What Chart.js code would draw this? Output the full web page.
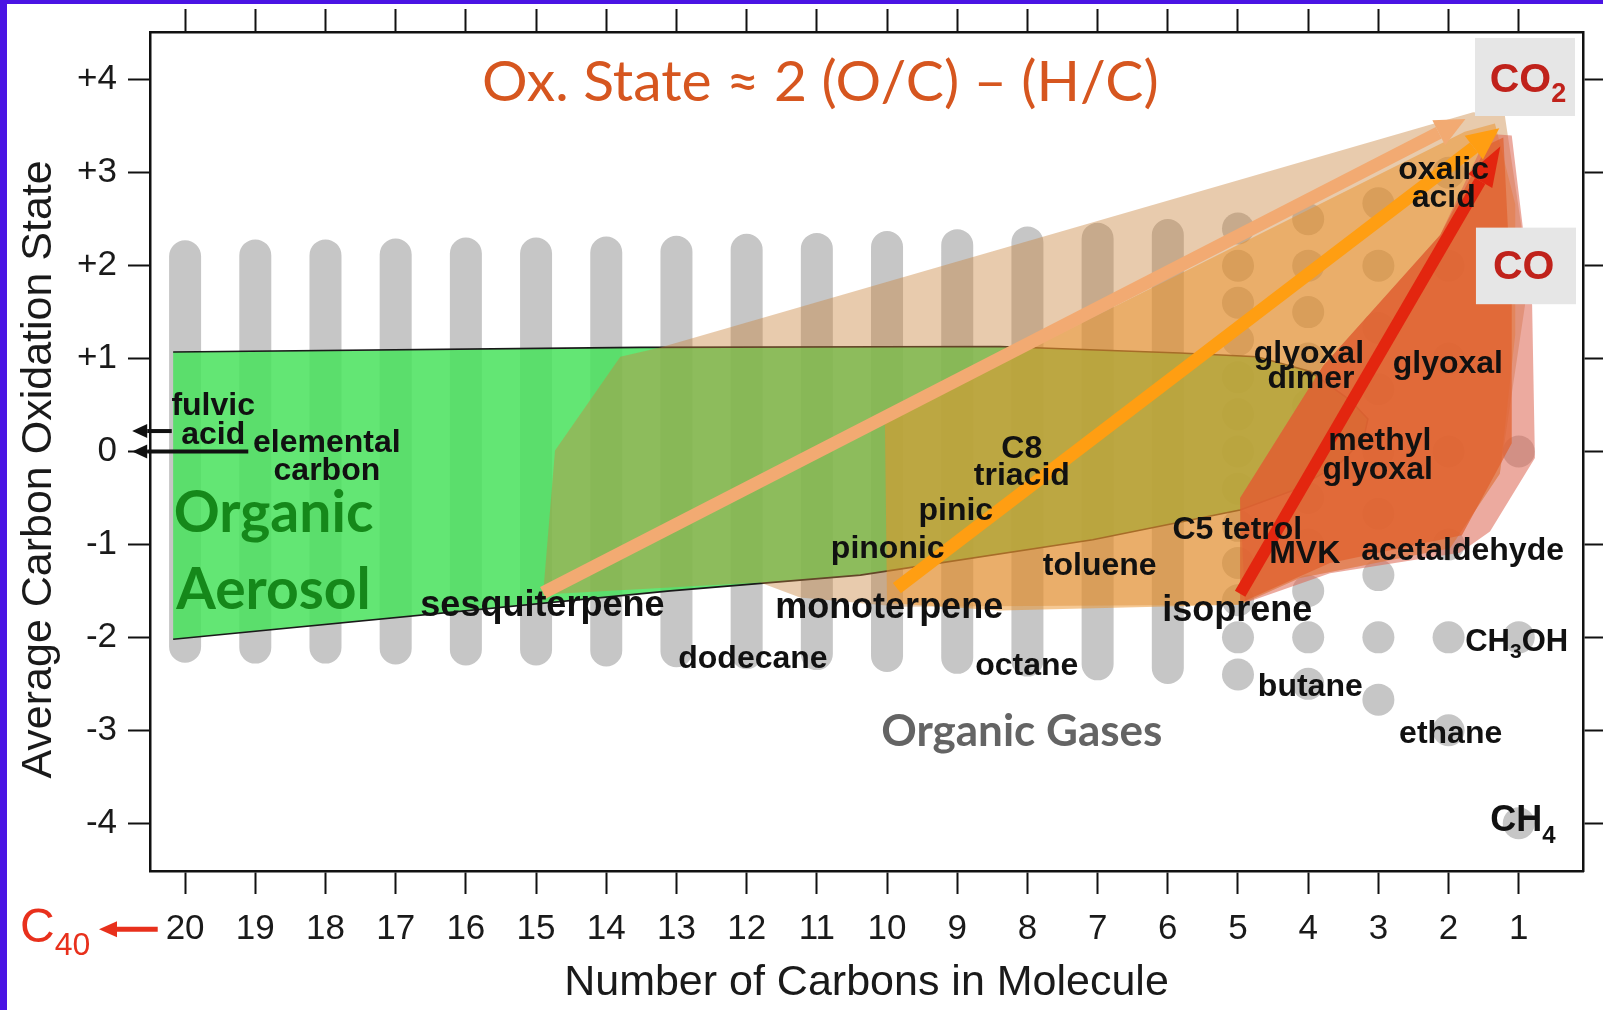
<!DOCTYPE html>
<html lang="en">
<head>
<meta charset="utf-8">
<title>Average carbon oxidation state</title>
<script src="https://cdn.jsdelivr.net/npm/chart.js@4.4.1/dist/chart.umd.min.js"></script>
<style>
  html, body { margin: 0; padding: 0; background: #ffffff; }
  canvas { display: block; }
</style>
</head>
<body>
<canvas id="grafico" width="1603" height="1010"></canvas>
<script>
// ==========================================
// Average carbon oxidation state vs. number of carbons
// ==========================================

// --- ticks ---
const carbonTicks = [20, 19, 18, 17, 16, 15, 14, 13, 12, 11, 10, 9, 8, 7, 6, 5, 4, 3, 2, 1];
const stateTicks = [-4, -3, -2, -1, 0, 1, 2, 3, 4];
const stateTickLabels = ['-4', '-3', '-2', '-1', '0', '+1', '+2', '+3', '+4'];

// --- gray columns (dots merge into bars for the bigger molecules) ---
const columnCarbons = [20, 19, 18, 17, 16, 15, 14, 13, 12, 11, 10, 9, 8, 7, 6];
const columnLow  = [-2.1, -2.11, -2.11, -2.12, -2.13, -2.13, -2.14, -2.15, -2.17, -2.18, -2.2, -2.22, -2.25, -2.29, -2.33];
const columnHigh = [2.1, 2.11, 2.11, 2.12, 2.13, 2.13, 2.14, 2.15, 2.17, 2.18, 2.2, 2.22, 2.25, 2.29, 2.33];

// --- separate dots for the small molecules ---
const dotsC5 = [-2.4, -2, -1.6, -1.2, -0.8, -0.4, 0, 0.4, 0.8, 1.2, 1.6, 2, 2.4];
const dotsC4 = [-2.5, -2, -1.5, -1, -0.5, 0, 0.5, 1, 1.5, 2, 2.5];
const dotsC3 = [-2.67, -2, -1.33, -0.67, 0, 0.67, 1.33, 2, 2.67];
const dotsC2 = [-3, -2, -1, 0, 1, 2, 3];
const dotsC1 = [-4, -2, 0, 2, 4];

// --- regions (outline points: carbons, oxidation state) ---
const aerosolN  = [20.17, 13.52, 8.39, 5.83, 4.73, 3.97, 3.40, 3.15, 3.21, 3.55, 4.22, 4.97, 7.07, 10.38, 13.09, 20.17, 20.17];
const aerosolOS = [1.07, 1.12, 1.13, 1.06, 1.02, 0.86, 0.55, 0.35, 0.14, -0.13, -0.42, -0.63, -0.95, -1.33, -1.50, -2.02, 1.07];

const sesquiN  = [14.90, 14.73, 13.80, 13.23, 1.65, 1.20, 0.95, 0.91, 1.27, 1.98, 4.12, 4.97, 9.81, 11.24, 11.81, 14.90];
const sesquiOS = [-1.54, 0.01, 1.02, 1.12, 3.65, 3.62, 2.36, 1.58, -0.24, -1.04, -1.36, -1.65, -1.67, -1.57, -1.41, -1.54];

const monoN  = [10.0, 10.03, 9.81, 1.77, 1.34, 1.05, 1.05, 1.27, 1.98, 4.12, 4.97, 8.39, 10.0];
const monoOS = [-1.63, 0.30, 0.41, 3.44, 3.53, 2.66, 1.26, -0.24, -1.04, -1.36, -1.65, -1.71, -1.63];

const isoGlowN  = [1.44, 1.10, 0.81, 0.77, 1.41, 1.84, 3.69, 4.90, 4.97, 3.79, 2.12, 1.44];
const isoGlowOS = [3.42, 3.40, 1.58, -0.07, -0.86, -1.09, -1.31, -1.63, -0.50, 0.92, 2.33, 3.42];

const isoN  = [4.97, 4.97, 3.79, 2.12, 1.44, 1.22, 1.10, 1.10, 1.81, 3.69, 4.97];
const isoOS = [-1.63, -0.50, 0.92, 2.33, 3.30, 3.38, 1.58, 0.09, -0.90, -1.20, -1.63];

// --- oxidation arrows (start -> base of the head) ---
const sesquiArrowN  = [14.90, 2.14];
const sesquiArrowOS = [-1.52, 3.43];
const monoArrowN  = [9.86, 1.64];
const monoArrowOS = [-1.47, 3.27];
const isoArrowN  = [4.97, 1.55];
const isoArrowOS = [-1.53, 2.91];

// --- little black arrows (fulvic acid, elemental carbon) and C40 arrow ---
const fulvicArrowN  = [20.19, 20.54];
const fulvicArrowOS = [0.22, 0.22];
const carbonArrowN  = [19.10, 20.54];
const carbonArrowOS = [0, 0];
const c40ArrowN  = [20.39, 20.97];
const c40ArrowOS = [-5.14, -5.14];

const FUENTE = '"Liberation Sans", Arial, Helvetica, sans-serif';

function puntos(ns, vs) {
    return ns.map((n, i) => ({ x: n, y: vs[i] }));
}

// columnas grises: un tramo por columna, separado con un hueco (null)
let columnas = [];
columnCarbons.forEach((n, i) => {
    columnas.push({ x: n, y: columnLow[i] }, { x: n, y: columnHigh[i] }, { x: n, y: null });
});

let puntitos = [];
[[5, dotsC5], [4, dotsC4], [3, dotsC3], [2, dotsC2], [1, dotsC1]].forEach(([n, lista]) => {
    lista.forEach(v => puntitos.push({ x: n, y: v }));
});

function region(ns, vs, color, orden) {
    return {
        data: puntos(ns, vs), fill: 'shape', backgroundColor: color,
        borderWidth: 0, pointRadius: 0, order: orden
    };
}

function flecha(ns, vs, color, ancho, punta, orden, sinClip) {
    let ds = {
        data: puntos(ns, vs), borderColor: color, borderWidth: ancho,
        pointRadius: 0, fill: false, order: orden, punta: punta
    };
    if (sinClip) ds.clip = false;
    return ds;
}

// textos sobre el gráfico (posiciones en unidades de los ejes)
const estilos = {
    std:   { size: 32, weight: 'bold', family: FUENTE, color: '#111111' },
    big:   { size: 36, weight: 'bold', family: FUENTE, color: '#111111', sub: 24, dy: 15 },
    ch3oh: { size: 31, weight: 'bold', family: FUENTE, color: '#111111', sub: 21, dy: 9 },
    oa:    { size: 57, weight: 'bold', family: 'Lato, "Open Sans", sans-serif', color: '#15881a' },
    gas:   { size: 44, weight: 'bold', family: 'Lato, "Open Sans", sans-serif', color: '#646464' },
    title: { size: 57, weight: 'normal', family: 'Lato, "Open Sans", sans-serif', color: '#d6561f' },
    co:    { size: 41, weight: 'bold', family: FUENTE, color: '#c0221b', sub: 27, dy: 14 },
    c40:   { size: 48, weight: 'normal', family: FUENTE, color: '#e8301c', sub: 32, dy: 17 }
};

const notas = [
    { t: 'fulvic', n: 19.60, v: 0.49 },
    { t: 'acid', n: 19.60, v: 0.18 },
    { t: 'elemental', n: 17.98, v: 0.09 },
    { t: 'carbon', n: 17.98, v: -0.21 },
    { t: 'Organic', n: 18.74, v: -0.67, f: 'oa' },
    { t: 'Aerosol', n: 18.74, v: -1.50, f: 'oa' },
    { t: 'sesquiterpene', n: 14.91, v: -1.66, f: 'big' },
    { t: 'monoterpene', n: 9.97, v: -1.68, f: 'big' },
    { t: 'isoprene', n: 5.01, v: -1.72, f: 'big' },
    { t: 'dodecane', n: 11.91, v: -2.24 },
    { t: 'octane', n: 8.01, v: -2.31 },
    { t: 'toluene', n: 6.97, v: -1.23 },
    { t: 'pinonic', n: 9.99, v: -1.05 },
    { t: 'pinic', n: 9.02, v: -0.64 },
    { t: 'C8', n: 8.08, v: 0.03 },
    { t: 'triacid', n: 8.08, v: -0.27 },
    { t: 'C5 tetrol', n: 5.01, v: -0.85 },
    { t: 'MVK', n: 4.05, v: -1.11 },
    { t: 'acetaldehyde', n: 1.80, v: -1.07 },
    { t: 'glyoxal', n: 3.99, v: 1.05 },
    { t: 'dimer', n: 3.96, v: 0.78 },
    { t: 'glyoxal', n: 2.01, v: 0.94 },
    { t: 'methyl', n: 2.98, v: 0.11 },
    { t: 'glyoxal', n: 3.01, v: -0.20 },
    { t: 'oxalic', n: 2.07, v: 3.03 },
    { t: 'acid', n: 2.07, v: 2.73 },
    { t: 'butane', n: 3.97, v: -2.54 },
    { t: 'ethane', n: 1.97, v: -3.04 },
    { partes: [['CH'], ['3', 1], ['OH']], n: 1.03, v: -2.06, f: 'ch3oh' },
    { partes: [['CH'], ['4', 1]], n: 0.94, v: -3.98, f: 'big' },
    { t: 'Organic Gases', n: 8.08, v: -3.02, f: 'gas' },
    { t: 'Ox. State \u2248 2 (O/C) \u2013 (H/C)', n: 10.95, v: 3.97, f: 'title' },
    { partes: [['CO'], ['2', 1]], n: 0.87, v: 3.99, f: 'co' },
    { t: 'CO', n: 0.93, v: 1.98, f: 'co' },
    { partes: [['C'], ['40', 1]], n: 21.85, v: -5.14, f: 'c40' }
];

// cajas grises detrás de CO2 y CO
const cajas = [
    { n1: 1.624, n2: 0.199, v1: 4.45, v2: 3.61 },
    { n1: 1.61, n2: 0.185, v1: 2.409, v2: 1.585 }
];

const fondo = {
    id: 'fondo',
    beforeDraw(chart) {
        let ctx = chart.ctx;
        ctx.save();
        ctx.fillStyle = '#ffffff';
        ctx.fillRect(0, 0, chart.width, chart.height);
        ctx.fillStyle = '#4a14e4';
        ctx.fillRect(0, 0, 7, chart.height);
        ctx.fillRect(0, 0, chart.width, 4);
        ctx.restore();
    }
};

function fuente(e, size) {
    return e.weight + ' ' + size + 'px ' + e.family;
}

const anotaciones = {
    id: 'anotaciones',
    afterDatasetsDraw(chart) {
        let ctx = chart.ctx;
        let xs = chart.scales.x, ys = chart.scales.y;
        ctx.save();

        // puntas de flecha
        chart.data.datasets.forEach((ds, i) => {
            if (!ds.punta) return;
            let pts = chart.getDatasetMeta(i).data;
            let a = pts[pts.length - 2], b = pts[pts.length - 1];
            let ang = Math.atan2(b.y - a.y, b.x - a.x);
            let [largo, medio] = ds.punta;
            let px = Math.cos(ang + Math.PI / 2), py = Math.sin(ang + Math.PI / 2);
            ctx.fillStyle = ds.borderColor;
            ctx.beginPath();
            ctx.moveTo(b.x + Math.cos(ang) * largo, b.y + Math.sin(ang) * largo);
            ctx.lineTo(b.x + px * medio, b.y + py * medio);
            ctx.lineTo(b.x - px * medio, b.y - py * medio);
            ctx.closePath();
            ctx.fill();
        });

        // cajas
        ctx.fillStyle = '#e6e6e6';
        cajas.forEach(c => {
            let x1 = xs.getPixelForValue(c.n1), x2 = xs.getPixelForValue(c.n2);
            let y1 = ys.getPixelForValue(c.v1), y2 = ys.getPixelForValue(c.v2);
            ctx.fillRect(Math.min(x1, x2), Math.min(y1, y2), Math.abs(x2 - x1), Math.abs(y2 - y1));
        });

        // textos
        ctx.textBaseline = 'middle';
        ctx.textAlign = 'left';
        notas.forEach(nota => {
            let e = estilos[nota.f || 'std'];
            let cx = xs.getPixelForValue(nota.n), cy = ys.getPixelForValue(nota.v);
            let partes = nota.partes || [[nota.t]];
            let total = 0;
            partes.forEach(p => {
                ctx.font = fuente(e, p[1] ? e.sub : e.size);
                total += ctx.measureText(p[0]).width;
            });
            let x0 = cx - total / 2;
            ctx.fillStyle = e.color;
            partes.forEach(p => {
                ctx.font = fuente(e, p[1] ? e.sub : e.size);
                ctx.fillText(p[0], x0, p[1] ? cy + e.dy : cy);
                x0 += ctx.measureText(p[0]).width;
            });
        });
        ctx.restore();
    }
};

const ejeGrid = { drawOnChartArea: false, drawTicks: true, tickLength: 23, tickColor: '#111111', tickWidth: 2 };
const ejeBorde = { display: true, color: '#111111', width: 2.5, z: 1 };

let ctx = document.getElementById('grafico').getContext('2d');
new Chart(ctx, {
    type: 'line',
    data: {
        datasets: [
            {
                data: columnas, borderColor: '#c6c6c6', borderWidth: 32, borderCapStyle: 'round',
                pointRadius: 0, fill: false, spanGaps: false, order: 100
            },
            {
                data: puntitos, showLine: false, pointRadius: 16, pointBackgroundColor: '#c6c6c6',
                pointBorderWidth: 0, order: 99
            },
            {
                data: puntos(aerosolN, aerosolOS), fill: 'shape', backgroundColor: 'rgba(72, 226, 92, 0.85)',
                borderColor: '#1a1a1a', borderWidth: 1.6, pointRadius: 0, order: 90,
                segment: {
                    borderColor: c => c.p0DataIndex === aerosolN.length - 2 ? 'rgba(0,0,0,0)' : undefined
                }
            },
            region(sesquiN, sesquiOS, 'rgba(200, 130, 60, 0.42)', 80),
            region(monoN, monoOS, 'rgba(235, 145, 40, 0.5)', 70),
            region(isoGlowN, isoGlowOS, 'rgba(220, 100, 80, 0.55)', 65),
            region(isoN, isoOS, 'rgba(225, 95, 45, 0.72)', 60),
            flecha(sesquiArrowN, sesquiArrowOS, '#f2aa72', 13, [30, 14], 50),
            flecha(monoArrowN, monoArrowOS, '#ff9e12', 13, [32, 15], 45),
            flecha(isoArrowN, isoArrowOS, '#e3260f', 12, [40, 14], 40),
            flecha(fulvicArrowN, fulvicArrowOS, '#111111', 4, [15, 7], 30, true),
            flecha(carbonArrowN, carbonArrowOS, '#111111', 4, [15, 7], 30, true),
            flecha(c40ArrowN, c40ArrowOS, '#e8301c', 5, [18, 8], 30, true)
        ]
    },
    options: {
        responsive: false,
        animation: false,
        events: [],
        layout: { padding: 0 },
        elements: { line: { tension: 0 }, point: { hoverRadius: 0 } },
        plugins: { legend: { display: false }, tooltip: { enabled: false } },
        scales: {
            x: {
                type: 'linear', position: 'bottom', reverse: true, min: 0.085, max: 20.5,
                afterBuildTicks: s => { s.ticks = carbonTicks.map(v => ({ value: v })); },
                ticks: {
                    autoSkip: false, maxRotation: 0, padding: 14, color: '#1a1a1a',
                    font: { family: FUENTE, size: 35 },
                    callback: v => String(v)
                },
                grid: ejeGrid, border: ejeBorde,
                title: {
                    display: true, text: 'Number of Carbons in Molecule', color: '#1a1a1a',
                    font: { family: FUENTE, size: 43 }, padding: { top: 0, bottom: 1 }
                },
                afterFit: s => { s.height = 139; }
            },
            xArriba: {
                type: 'linear', position: 'top', reverse: true, min: 0.085, max: 20.5,
                afterBuildTicks: s => { s.ticks = carbonTicks.map(v => ({ value: v })); },
                ticks: { display: false },
                grid: ejeGrid, border: ejeBorde,
                afterFit: s => { s.height = 28; }
            },
            y: {
                type: 'linear', position: 'left', min: -4.514, max: 4.514,
                afterBuildTicks: s => { s.ticks = stateTicks.map(v => ({ value: v })); },
                ticks: {
                    padding: 11, color: '#1a1a1a', font: { family: FUENTE, size: 35 },
                    callback: (v, i) => stateTickLabels[i]
                },
                grid: Object.assign({}, ejeGrid, { tickLength: 22 }), border: ejeBorde,
                title: {
                    // los espacios del final bajan un poco el texto, como en el original
                    display: true, text: 'Average Carbon Oxidation State   ', color: '#1a1a1a',
                    font: { family: FUENTE, size: 43 }, padding: { top: 13, bottom: 0 }
                },
                afterFit: s => { s.width = 150; }
            },
            yDerecha: {
                type: 'linear', position: 'right', min: -4.514, max: 4.514,
                afterBuildTicks: s => { s.ticks = stateTicks.map(v => ({ value: v })); },
                ticks: { display: false },
                grid: ejeGrid, border: ejeBorde,
                afterFit: s => { s.width = 20; }
            }
        }
    },
    plugins: [fondo, anotaciones]
});
</script>
</body>
</html>
